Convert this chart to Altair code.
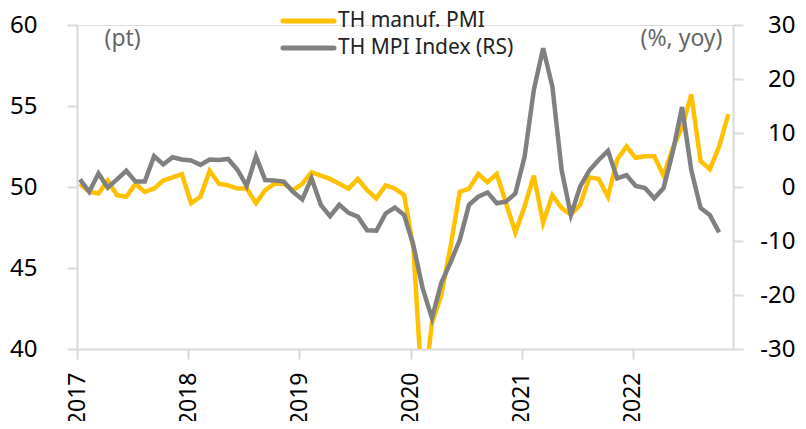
import altair as alt
import pandas as pd

# ---- data ----
months = pd.date_range("2017-03-01", "2023-01-01", freq="MS").strftime("%Y-%m").tolist()
year_labels = ["2017", "2018", "2019", "2020", "2021", "2022"]

pmi = [50.2, 49.7, 49.6, 50.4, 49.5, 49.4, 50.2, 49.7, 49.9, 50.4, 50.6, 50.8,
       49.0, 49.4, 51.0, 50.2, 50.1, 49.9, 49.9, 49.0, 49.8, 50.2, 50.2, 49.8,
       50.2, 50.9, 50.7, 50.5, 50.2, 49.9, 50.5, 49.8, 49.3, 50.1, 49.9, 49.5,
       46.2, 36.8, 41.6, 43.3, 46.3, 49.7, 49.9, 50.8, 50.3, 50.8, 49.0, 47.2,
       48.8, 50.7, 47.8, 49.5, 48.7, 48.3, 48.9, 50.6, 50.5, 49.4, 51.7, 52.5,
       51.8, 51.9, 51.9, 50.7, 52.4, 53.7, 55.7, 51.6, 51.1, 52.5, 54.5]

mpi = [1.4, -0.9, 2.5, -0.1, 1.4, 3.0, 1.0, 1.0, 5.7, 4.2, 5.5, 5.1,
       4.9, 4.1, 5.1, 5.0, 5.2, 3.2, 0.2, 5.7, 1.3, 1.2, 1.0, -0.9,
       -2.3, 1.6, -3.3, -5.4, -3.3, -4.8, -5.5, -8.0, -8.1, -4.9, -3.8, -5.2,
       -10.8, -18.8, -24.3, -17.8, -14.0, -9.8, -3.3, -1.8, -1.0, -3.0, -2.7, -1.2,
       5.6, 18.0, 25.7, 18.6, 3.1, -5.2, 0.1, 3.1, 5.0, 6.7, 1.6, 2.2,
       0.2, -0.2, -2.1, -0.2, 6.5, 14.8, 3.1, -3.9, -5.2, -8.4]

series_names = ["TH manuf. PMI", "TH MPI Index (RS)"]
series_colors = ["#FFC000", "#808080"]

df_pmi = pd.DataFrame({"k": list(range(len(pmi))), "month": months[:len(pmi)],
                       "value": pmi, "series": series_names[0]})
df_mpi = pd.DataFrame({"k": list(range(len(mpi))), "month": months[:len(mpi)],
                       "value": mpi, "series": series_names[1]})

FONT = "Noto Sans"
AX = "#D9D9D9"

tick_vals = [-0.3 + 12 * i for i in range(len(year_labels))]
label_expr = "[" + ",".join("'" + y + "'" for y in year_labels) + "][round((datum.value + 0.3) / 12)]"

x_enc = alt.X(
    "k:Q",
    scale=alt.Scale(domain=[-0.32, 70.5], nice=False, zero=False),
    axis=alt.Axis(values=tick_vals, labelExpr=label_expr, title=None, grid=False,
                  labelAngle=-90, labelFontSize=23, labelPadding=13, labelColor="#000000",
                  labelFont=FONT, domainColor=AX, domainWidth=2, tickColor=AX,
                  tickWidth=2, tickSize=10),
)

color_enc = alt.Color(
    "series:N",
    scale=alt.Scale(domain=series_names, range=series_colors),
    legend=None,
)

left = alt.Chart(df_pmi).mark_line(strokeWidth=4.5, clip=True).encode(
    x=x_enc,
    y=alt.Y("value:Q",
            scale=alt.Scale(domain=[40, 60], nice=False, zero=False),
            axis=alt.Axis(values=[40, 45, 50, 55, 60], grid=False, title="(pt)",
                          titleAngle=0, titleX=27, titleY=13, titleAlign="left",
                          titleBaseline="middle", titleColor="#666666", titleFontSize=23,
                          titleFontWeight="normal", titleFont=FONT,
                          labelFontSize=24, labelFont=FONT, labelColor="#000000",
                          labelPadding=30, domainColor=AX, domainWidth=2,
                          tickColor=AX, tickWidth=2, tickSize=10)),
    color=color_enc,
    order="k:Q",
)

right = alt.Chart(df_mpi).mark_line(strokeWidth=4.5, clip=True).encode(
    x=x_enc,
    y=alt.Y("value:Q",
            scale=alt.Scale(domain=[-30, 30], nice=False, zero=False),
            axis=alt.Axis(orient="right", values=[-30, -20, -10, 0, 10, 20, 30], grid=False,
                          labelExpr="toString(datum.value)",
                          title="(%, yoy)", titleAngle=0, titleX=-11, titleY=13,
                          titleAlign="right", titleBaseline="middle", titleColor="#666666",
                          titleFontSize=23, titleFontWeight="normal", titleFont=FONT,
                          labelFontSize=24, labelFont=FONT, labelColor="#000000",
                          labelAlign="right", labelPadding=52, domainColor=AX, domainWidth=2,
                          tickColor=AX, tickWidth=2, tickSize=10)),
    color=color_enc,
    order="k:Q",
)

# ---- legend (drawn as marks, top centre) ----
legend_rows = [(-4, 0), (23, 1)]  # (pixel y inside plot, series index)
legend_layers = []
for ly, si in legend_rows:
    ldf = pd.DataFrame({"series": [series_names[si]]})
    legend_layers.append(
        alt.Chart(ldf).mark_rule(strokeWidth=5, strokeCap="round").encode(
            x=alt.value(206), x2=alt.value(257), y=alt.value(ly),
            color=alt.Color("series:N", scale=alt.Scale(domain=series_names, range=series_colors), legend=None),
        )
    )
    legend_layers.append(
        alt.Chart(ldf).mark_text(align="left", baseline="middle", fontSize=21, font=FONT,
                                 color="#222222").encode(
            x=alt.value(261), y=alt.value(ly), text="series:N",
        )
    )

chart = alt.layer(left, right, *legend_layers).resolve_scale(y="independent").properties(
    width=656, height=324,
    autosize=alt.AutoSizeParams(type="none"),
    padding={"left": 69, "top": 17, "right": 65, "bottom": 72},
).configure_view(stroke=None).configure(background="white")

chart.save("out.html", embed_options={"renderer": "svg", "actions": False})
